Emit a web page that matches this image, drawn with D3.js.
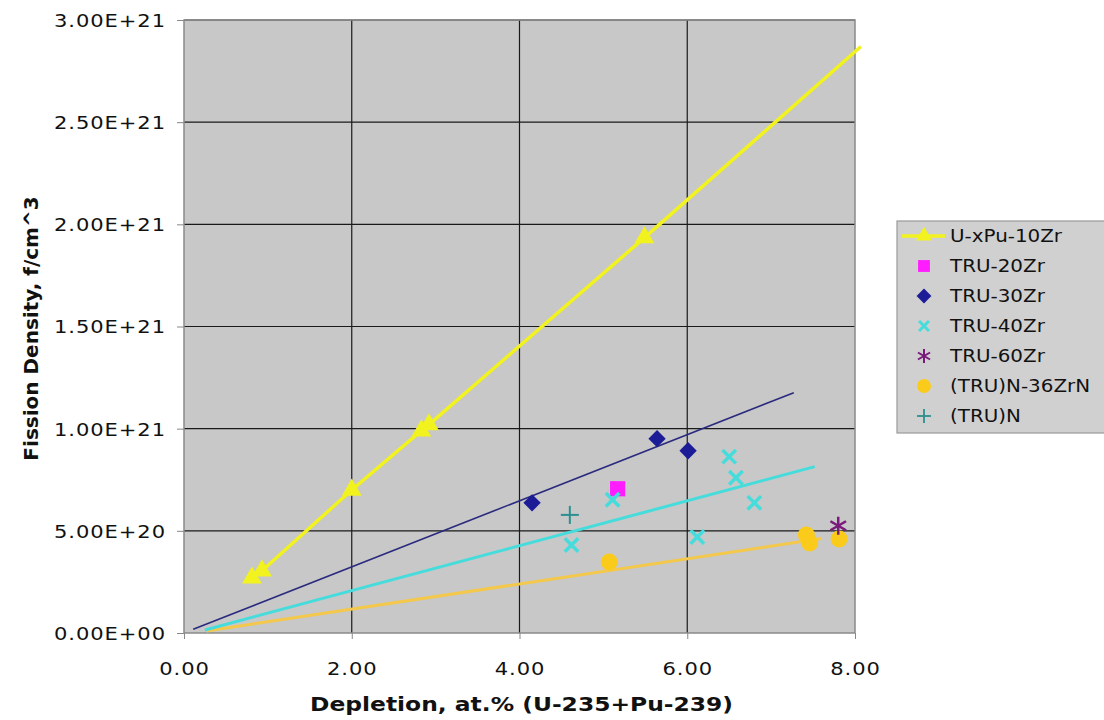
<!DOCTYPE html>
<html>
<head>
<meta charset="utf-8">
<script src="https://cdn.jsdelivr.net/npm/d3@7"></script>
<style>
  body { margin: 0; background: #fff; }
  svg text { font-family: "DejaVu Sans", Verdana, sans-serif; fill: #111; }
  .axis path, .axis line { stroke: #888; }
  .axis-title { font-size: 20px; font-weight: bold; }
  .legend text { font-size: 17px; }
</style>
</head>
<body>
<div id="chart"></div>
<script>
// ---- data ----
// U-xPu-10Zr (line + triangles); last point is where the drawn line ends
var uxpuX = [0.81, 0.93, 2.00, 2.83, 2.92, 5.49, 8.07];
var uxpuY = [2.70e20, 3.05e20, 7.00e20, 9.90e20, 1.02e21, 1.935e21, 2.87e21];

var tru20X = [5.17];
var tru20Y = [7.06e20];

var tru30X = [4.15, 5.64, 6.01];
var tru30Y = [6.37e20, 9.51e20, 8.92e20];

var tru40X = [4.62, 5.11, 6.12, 6.50, 6.58, 6.80];
var tru40Y = [4.31e20, 6.52e20, 4.70e20, 8.63e20, 7.60e20, 6.37e20];

var tru60X = [7.80];
var tru60Y = [5.25e20];

var nitrideZrX = [5.07, 7.42, 7.46, 7.81];
var nitrideZrY = [3.48e20, 4.80e20, 4.40e20, 4.60e20];

var nitrideX = [4.60];
var nitrideY = [5.78e20];

// linear trend lines (start / end)
var trend30X = [0.11, 7.27];
var trend30Y = [0.18e20, 1.176e21];
var trend40X = [0.25, 7.52];
var trend40Y = [0.15e20, 8.14e20];
var trendNzX = [0.27, 7.60];
var trendNzY = [0.10e20, 4.62e20];

var xTicks = [0, 2, 4, 6, 8];
var yTicks = [0, 5e20, 1e21, 1.5e21, 2e21, 2.5e21, 3e21];

var legendNames = ["U-xPu-10Zr", "TRU-20Zr", "TRU-30Zr", "TRU-40Zr", "TRU-60Zr", "(TRU)N-36ZrN", "(TRU)N"];

var colors = {
  uxpu: "#f2f21e",
  tru20: "#ff1cff",
  tru30: "#1c1c96",
  tru40: "#46dcdc",
  tru60: "#7a1a7a",
  nz: "#fbcb1c",
  n: "#2c9090"
};

// the source picture is a little wider than tall, so text is stretched
var stretch = 1.17;

function zip(xs, ys) { return xs.map(function(x, i){ return {x: x, y: ys[i]}; }); }

var W = 1104, H = 720;
var margin = {top: 20, right: 249, bottom: 87, left: 184};
var width = W - margin.left - margin.right,
    height = H - margin.top - margin.bottom;

var svgRoot = d3.select("#chart").append("svg")
  .attr("width", W).attr("height", H);

var svg = svgRoot.append("g")
  .attr("transform", "translate(" + margin.left + "," + margin.top + ")");

var x = d3.scaleLinear().domain([0, 8]).range([0, width]);
var y = d3.scaleLinear().domain([0, 3e21]).range([height, 0]);

// plot background
svg.append("rect")
  .attr("width", width).attr("height", height)
  .attr("fill", "#c8c8c8");

// grid
svg.selectAll("line.vgrid").data(xTicks.slice(1, -1)).enter().append("line")
  .attr("class", "vgrid")
  .attr("x1", function(d){ return x(d); }).attr("x2", function(d){ return x(d); })
  .attr("y1", 0).attr("y2", height)
  .attr("stroke", "#1a1a1a").attr("stroke-width", 1.2);

svg.selectAll("line.hgrid").data(yTicks.slice(1)).enter().append("line")
  .attr("class", "hgrid")
  .attr("x1", 0).attr("x2", width)
  .attr("y1", function(d){ return y(d); }).attr("y2", function(d){ return y(d); })
  .attr("stroke", "#1a1a1a").attr("stroke-width", 1.2);

svg.append("rect")
  .attr("width", width).attr("height", height)
  .attr("fill", "none").attr("stroke", "#8a8a8a").attr("stroke-width", 1.5);

// axes
var xAxis = d3.axisBottom(x).tickValues(xTicks).tickSize(6).tickSizeOuter(0)
  .tickFormat(d3.format(".2f"));
var yAxis = d3.axisLeft(y).tickValues(yTicks).tickSize(7).tickSizeOuter(0)
  .tickFormat(function(d){
    if (d === 0) return "0.00E+00";
    var e = Math.floor(Math.log10(d));
    return (d / Math.pow(10, e)).toFixed(2) + "E+" + e;
  });

svg.append("g").attr("class", "axis x-axis")
  .attr("transform", "translate(0," + height + ")")
  .call(xAxis)
  .call(function(g){ g.select(".domain").remove(); })
  .selectAll("text")
    .attr("y", 0).attr("dy", "0.36em")
    .attr("transform", "translate(0,36)scale(" + stretch + ",1)");

svg.append("g").attr("class", "axis y-axis")
  .call(yAxis)
  .call(function(g){ g.select(".domain").remove(); })
  .selectAll("text")
    .attr("x", 0).attr("dy", "0.36em")
    .attr("transform", "translate(-18,0)scale(" + stretch + ",1)");

svg.selectAll(".axis text")
  .style("font-size", "18px").style("letter-spacing", "0.8px").style("fill", "#111");

// axis titles
svg.append("text")
  .attr("class", "axis-title")
  .attr("text-anchor", "middle")
  .attr("transform", "translate(" + (width / 2 + 2) + "," + (height + 78) + ")scale(" + stretch + ",1)")
  .text("Depletion, at.% (U-235+Pu-239)");

svg.append("text")
  .attr("class", "axis-title")
  .attr("text-anchor", "middle")
  .attr("transform", "translate(" + (-margin.left + 38) + "," + (height / 2 + 2) + ")rotate(-90)")
  .text("Fission Density, f/cm^3");

// trend lines
var line = d3.line().x(function(d){ return x(d.x); }).y(function(d){ return y(d.y); });

svg.append("path").datum(zip(trendNzX, trendNzY))
  .attr("d", line).attr("fill", "none").attr("stroke", "#f4c84a").attr("stroke-width", 3);
svg.append("path").datum(zip(trend40X, trend40Y))
  .attr("d", line).attr("fill", "none").attr("stroke", colors.tru40).attr("stroke-width", 3);
svg.append("path").datum(zip(trend30X, trend30Y))
  .attr("d", line).attr("fill", "none").attr("stroke", "#2a2a7e").attr("stroke-width", 1.6);

// marker helpers
function drawSymbol(g, data, type, size, color, rot) {
  g.selectAll(null).data(data).enter().append("path")
    .attr("transform", function(d){ return "translate(" + x(d.x) + "," + y(d.y) + ")rotate(" + (rot || 0) + ")"; })
    .attr("d", d3.symbol().type(type).size(size))
    .attr("fill", color);
}

function drawCross(g, data, r, color, sw, rotate) {
  var s = g.selectAll(null).data(data).enter().append("g")
    .attr("transform", function(d){ return "translate(" + x(d.x) + "," + y(d.y) + ")rotate(" + rotate + ")"; });
  s.append("line").attr("x1", -r).attr("x2", r).attr("y1", 0).attr("y2", 0)
    .attr("stroke", color).attr("stroke-width", sw);
  s.append("line").attr("x1", 0).attr("x2", 0).attr("y1", -r).attr("y2", r)
    .attr("stroke", color).attr("stroke-width", sw);
}

function drawStar(g, data, r, color) {
  var s = g.selectAll(null).data(data).enter().append("g")
    .attr("transform", function(d){ return "translate(" + x(d.x) + "," + y(d.y) + ")"; });
  [30, 90, 150].forEach(function(a){
    var rad = a * Math.PI / 180;
    s.append("line")
      .attr("x1", -r * Math.cos(rad)).attr("y1", -r * Math.sin(rad))
      .attr("x2", r * Math.cos(rad)).attr("y2", r * Math.sin(rad))
      .attr("stroke", color).attr("stroke-width", 2.5);
  });
}

var marks = svg.append("g");

// U-xPu-10Zr line with triangles
var uxpu = zip(uxpuX, uxpuY);
marks.append("path").datum(uxpu)
  .attr("d", line).attr("fill", "none").attr("stroke", colors.uxpu).attr("stroke-width", 3.5);
drawSymbol(marks, uxpu.filter(function(d){ return d.x <= 8; }), d3.symbolTriangle, 170, colors.uxpu);

drawSymbol(marks, zip(tru30X, tru30Y), d3.symbolSquare, 150, colors.tru30, 45);
drawSymbol(marks, zip(tru20X, tru20Y), d3.symbolSquare, 230, colors.tru20);
drawCross(marks, zip(tru40X, tru40Y), 9.5, colors.tru40, 3.5, 45);
drawCross(marks, zip(nitrideX, nitrideY), 9, colors.n, 2, 0);
marks.selectAll(null).data(zip(nitrideZrX, nitrideZrY)).enter().append("circle")
  .attr("cx", function(d){ return x(d.x); }).attr("cy", function(d){ return y(d.y); })
  .attr("r", 8.5).attr("fill", colors.nz);
drawStar(marks, zip(tru60X, tru60Y), 9, colors.tru60);

// legend
var legend = svgRoot.append("g").attr("class", "legend")
  .attr("transform", "translate(897,221)");

legend.append("rect")
  .attr("width", 210).attr("height", 212)
  .attr("fill", "#d0d0d0").attr("stroke", "#9a9a9a").attr("stroke-width", 1.2);

var rowH = 30, sx = 27;
var rows = legend.selectAll("g.row").data(legendNames).enter().append("g")
  .attr("class", "row")
  .attr("transform", function(d, i){ return "translate(0," + (15 + i * rowH) + ")"; });

rows.append("text")
  .attr("dy", "0.36em")
  .attr("transform", "translate(53,0)scale(" + stretch + ",1)")
  .text(function(d){ return d; });

var r0 = rows.filter(function(d, i){ return i === 0; });
r0.append("line").attr("x1", 5).attr("x2", 48).attr("stroke", colors.uxpu).attr("stroke-width", 3.5);
r0.append("path").attr("transform", "translate(" + sx + ",0)")
  .attr("d", d3.symbol().type(d3.symbolTriangle).size(110)).attr("fill", colors.uxpu);

rows.filter(function(d, i){ return i === 1; }).append("path").attr("transform", "translate(" + sx + ",0)")
  .attr("d", d3.symbol().type(d3.symbolSquare).size(140)).attr("fill", colors.tru20);
rows.filter(function(d, i){ return i === 2; }).append("path").attr("transform", "translate(" + sx + ",0)rotate(45)")
  .attr("d", d3.symbol().type(d3.symbolSquare).size(110)).attr("fill", colors.tru30);

function legendCross(row, r, color, sw, rotate) {
  var g = row.append("g").attr("transform", "translate(" + sx + ",0)rotate(" + rotate + ")");
  g.append("line").attr("x1", -r).attr("x2", r).attr("stroke", color).attr("stroke-width", sw);
  g.append("line").attr("y1", -r).attr("y2", r).attr("stroke", color).attr("stroke-width", sw);
}
legendCross(rows.filter(function(d, i){ return i === 3; }), 7, colors.tru40, 3, 45);
legendCross(rows.filter(function(d, i){ return i === 6; }), 7, colors.n, 1.8, 0);

var starRow = rows.filter(function(d, i){ return i === 4; }).append("g").attr("transform", "translate(" + sx + ",0)");
[30, 90, 150].forEach(function(a){
  var rad = a * Math.PI / 180;
  starRow.append("line")
    .attr("x1", -7 * Math.cos(rad)).attr("y1", -7 * Math.sin(rad))
    .attr("x2", 7 * Math.cos(rad)).attr("y2", 7 * Math.sin(rad))
    .attr("stroke", colors.tru60).attr("stroke-width", 2);
});

rows.filter(function(d, i){ return i === 5; }).append("circle")
  .attr("cx", sx).attr("r", 7).attr("fill", colors.nz);
</script>
</body>
</html>
